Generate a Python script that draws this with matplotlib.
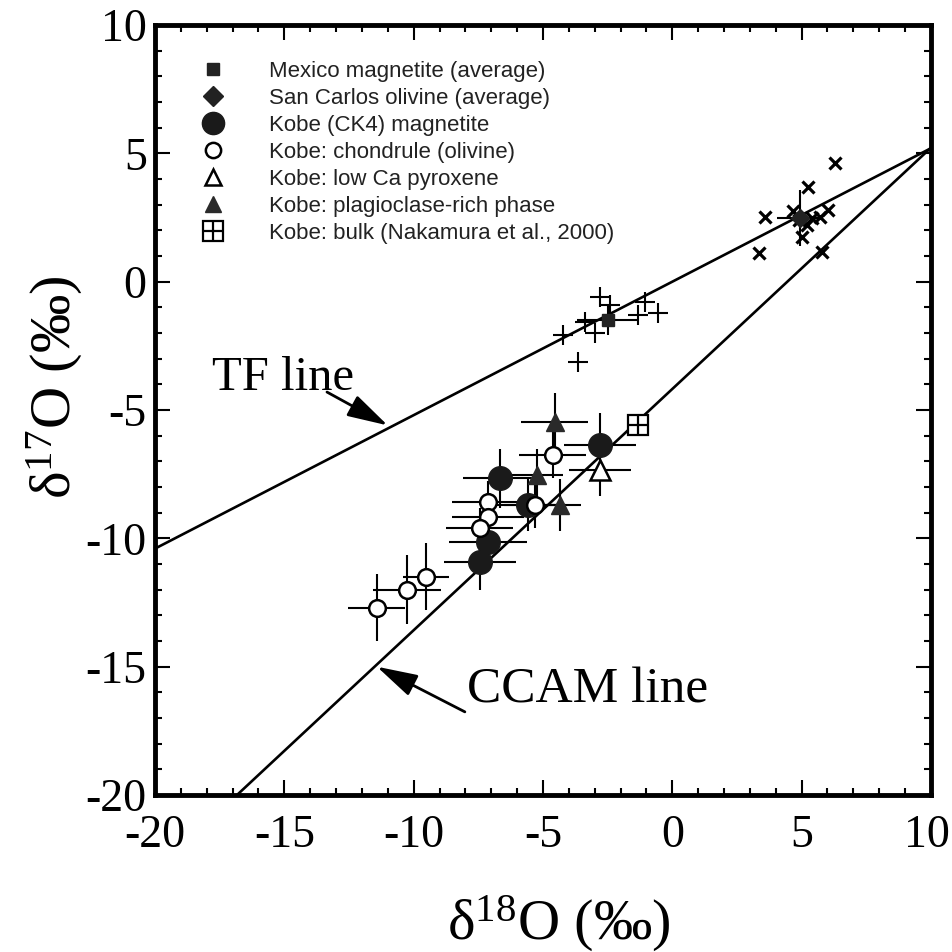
import matplotlib
matplotlib.use("Agg")
import matplotlib.pyplot as plt
import matplotlib.transforms as mtransforms
from matplotlib.legend_handler import HandlerTuple

plt.rcParams['font.family'] = ['Liberation Serif', 'DejaVu Serif']
plt.rcParams['mathtext.default'] = 'regular'
plt.rcParams['axes.unicode_minus'] = False

# reference lines (end points)
tf_x = [-20, 10]
tf_y = [-10.4, 5.2]
ccam_x = [-16.83, 10]
ccam_y = [-20, 5.22]

# Kobe (CK4) magnetite
mag_x = [-6.66, -5.58, -7.13, -7.44, -2.80]
mag_y = [-7.65, -8.70, -10.14, -10.92, -6.36]
mag_xe = [1.45, 1.4, 1.5, 1.4, 1.4]
mag_ye = [1.15, 1.0, 0.8, 1.1, 1.25]

# Kobe chondrule (olivine)
chd_x = [-4.62, -7.13, -7.13, -7.44, -5.31, -9.52, -10.26, -11.42]
chd_y = [-6.75, -8.58, -9.17, -9.60, -8.70, -11.50, -12.00, -12.70]
chd_xe = [1.3, 1.4, 1.4, 1.3, 1.2, 0.9, 1.3, 1.1]
chd_ye = [0.9, 0.8, 0.8, 0.8, 0.9, 1.3, 1.35, 1.3]

# Kobe plagioclase-rich phase
plg_x = [-4.54, -5.23, -4.34]
plg_y = [-5.47, -7.53, -8.70]
plg_xe = [1.3, 1.0, 0.8]
plg_ye = [1.15, 1.0, 1.0]

# Kobe low Ca pyroxene
pyx_x = [-2.80]
pyx_y = [-7.34]
pyx_xe = [1.2]
pyx_ye = [1.0]

# Kobe bulk (Nakamura et al., 2000)
blk_x = [-1.33]
blk_y = [-5.58]

# Mexico magnetite (average)
mex_x = [-2.49]
mex_y = [-1.49]
mex_xe = [1.2]
mex_ye = [0.6]

# San Carlos olivine (average)
sco_x = [4.93]
sco_y = [2.48]
sco_xe = [0.9]
sco_ye = [1.1]

# individual terrestrial analyses
plus_x = [-2.80, -2.41, -1.06, -1.33, -0.56, -3.38, -2.99, -4.23, -3.65]
plus_y = [-0.60, -0.91, -0.79, -1.30, -1.22, -1.57, -2.00, -2.08, -3.13]
cross_x = [6.29, 5.24, 3.58, 3.35, 5.78, 6.01, 5.01, 5.71, 4.66, 5.20, 4.90, 5.40]
cross_y = [4.62, 3.69, 2.52, 1.12, 1.16, 2.79, 1.74, 2.52, 2.76, 2.20, 2.40, 2.50]

fig = plt.figure(figsize=(9.52, 9.52), dpi=100)
ax = fig.add_axes([0.1628, 0.1649, 0.8151, 0.8088])

ax.plot(tf_x, tf_y, color='black', lw=1.9, zorder=2)
ax.plot(ccam_x, ccam_y, color='black', lw=1.9, zorder=2)

eb = dict(fmt='none', ecolor='black', elinewidth=1.5, capsize=0, zorder=3)
ax.errorbar(mex_x, mex_y, xerr=mex_xe, yerr=mex_ye, **eb)
ax.errorbar(sco_x, sco_y, xerr=sco_xe, yerr=sco_ye, **eb)
ax.errorbar(mag_x, mag_y, xerr=mag_xe, yerr=mag_ye, **eb)
ax.errorbar(chd_x, chd_y, xerr=chd_xe, yerr=chd_ye, **eb)
ax.errorbar(plg_x, plg_y, xerr=plg_xe, yerr=plg_ye, **eb)
ax.errorbar(pyx_x, pyx_y, xerr=pyx_xe, yerr=pyx_ye, **eb)

ax.plot(plus_x, plus_y, ls='none', marker='+', ms=14, mew=1.5, color='black', zorder=4)
ax.plot(cross_x, cross_y, ls='none', marker='x', ms=9, mew=2.3, color='black', zorder=4)

h_mex, = ax.plot(mex_x, mex_y, ls='none', marker='s', ms=9, color='#222', zorder=5)
h_sco, = ax.plot(sco_x, sco_y, ls='none', marker='D', ms=9, color='#222', zorder=5)
h_mag, = ax.plot(mag_x, mag_y, ls='none', marker='o', ms=17, color='#1a1a1a', zorder=5)
h_chd, = ax.plot(chd_x, chd_y, ls='none', marker='o', ms=12, mfc='white', mec='black', mew=1.8, zorder=6)
h_pyx, = ax.plot(pyx_x, pyx_y, ls='none', marker='^', ms=14, mfc='white', mec='black', mew=1.8, zorder=6)
h_plg, = ax.plot(plg_x, plg_y, ls='none', marker='^', ms=13, color='#2a2a2a', zorder=6)
h_blk1, = ax.plot(blk_x, blk_y, ls='none', marker='s', ms=14, mfc='white', mec='black', mew=1.6, zorder=6)
h_blk2, = ax.plot(blk_x, blk_y, ls='none', marker='+', ms=14, mec='black', mew=1.6, zorder=7)

ax.set_xlim(-20, 10)
ax.set_ylim(-20, 10)
ax.set_xticks(range(-20, 11, 5))
ax.set_yticks(range(-20, 11, 5))
ax.set_xticks(range(-20, 11), minor=True)
ax.set_yticks(range(-20, 11), minor=True)
ax.tick_params(which='both', direction='in', top=True, right=True, width=1.5)
ax.tick_params(which='major', length=11, labelsize=33)
ax.tick_params(which='minor', length=5)
ax.tick_params(axis='x', which='major', pad=14)
ax.tick_params(axis='y', which='major', pad=6)
for s in ax.spines.values():
    s.set_linewidth(3.5)
# keep the last x label inside the figure
last = ax.get_xticklabels()[-1]
last.set_transform(last.get_transform() + mtransforms.ScaledTranslation(-4 / 100, 0, fig.dpi_scale_trans))

ax.set_xlabel('δ$^{18}$O (‰)', fontsize=42)
ax.set_ylabel('δ$^{17}$O (‰)', fontsize=42)
ax.xaxis.set_label_coords(0.52, -0.128)
ax.yaxis.set_label_coords(-0.09, 0.53)

ax.text(-17.8, -4.22, 'TF line', fontsize=35, ha='left', va='baseline')
ax.annotate('', xy=(-11.0, -5.6), xytext=(-13.35, -4.3),
            arrowprops=dict(arrowstyle='-|>,head_length=1.0,head_width=0.28', lw=2, color='black',
                            shrinkA=0, shrinkB=0, mutation_scale=25))
ax.text(-7.94, -15.9, 'CCAM line', fontsize=37, ha='left', va='center')
ax.annotate('', xy=(-11.42, -15.0), xytext=(-8.02, -16.76),
            arrowprops=dict(arrowstyle='-|>,head_length=1.0,head_width=0.28', lw=2, color='black',
                            shrinkA=0, shrinkB=0, mutation_scale=25))

handles = [h_mex, h_sco, h_mag, h_chd, h_pyx, h_plg, (h_blk1, h_blk2)]
labels = ['Mexico magnetite (average)', 'San Carlos olivine (average)', 'Kobe (CK4) magnetite',
          'Kobe: chondrule (olivine)', 'Kobe: low Ca pyroxene', 'Kobe: plagioclase-rich phase',
          'Kobe: bulk (Nakamura et al., 2000)']
leg = ax.legend(handles, labels, loc='upper left', bbox_to_anchor=(0.0606, 0.953), frameon=False,
                prop={'family': 'Liberation Sans', 'size': 16}, handlelength=1.0, handletextpad=2.0,
                labelspacing=0.27, borderpad=0, borderaxespad=0, numpoints=1,
                handler_map={tuple: HandlerTuple(ndivide=1, pad=0)})
for t in leg.get_texts():
    t.set_color('#222')
# smaller markers in the legend, as in the original key
for lh, s in zip(leg.legend_handles, [9, 10, 16, 11, 12, 12]):
    lh.set_markersize(s)

fig.savefig('out.png', dpi=100)
